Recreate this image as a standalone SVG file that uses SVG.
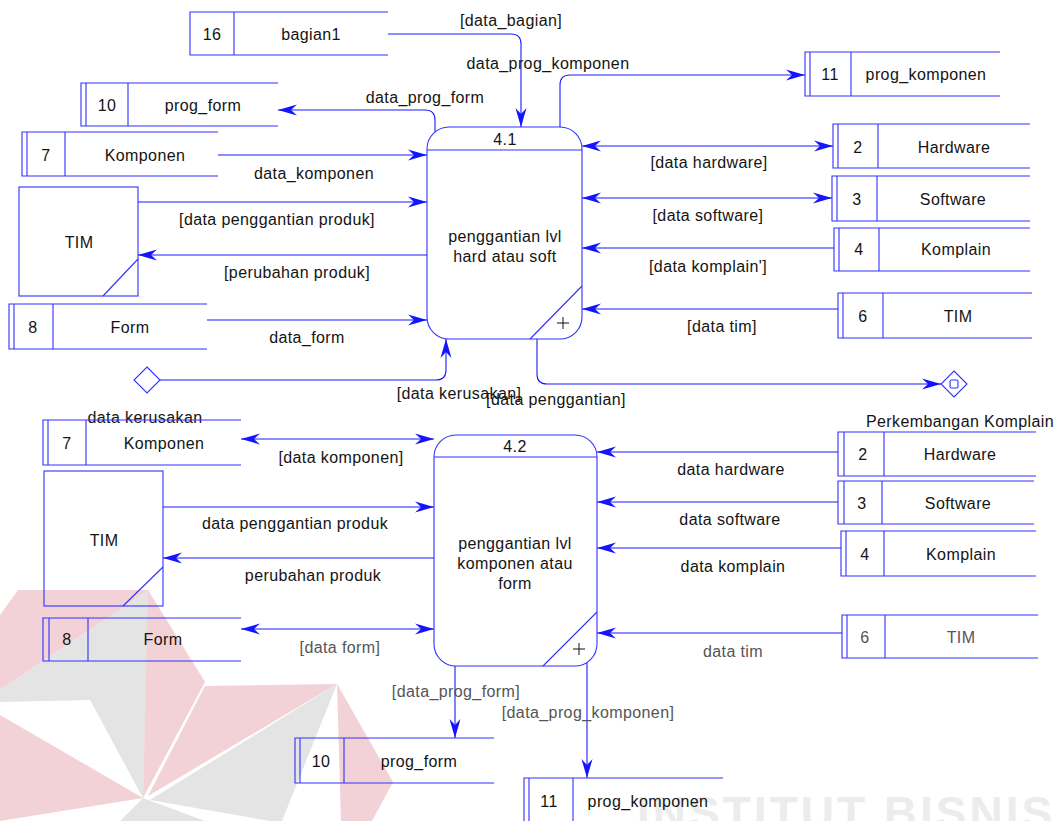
<svg xmlns="http://www.w3.org/2000/svg" width="1062" height="821" viewBox="0 0 1062 821">
  <defs>
    <style>
      text { font-family: "Liberation Sans", Arial, sans-serif; font-size: 16px; fill: #141414; letter-spacing: 0.4px; }
      .c { text-anchor: middle; }
      .dim { fill: #555; }
      .ln { fill: none; stroke: #1a1aff; stroke-width: 1.1; }
      .st { fill: none; stroke: #3030ff; stroke-width: 1.1; }
      .plus { stroke: #111; stroke-width: 1; }
      .wmr { fill: #f2d2d6; }
      .wmg { fill: #e4e4e4; }
      .wmt { font-family: "Liberation Sans", Arial, sans-serif; font-weight: bold; font-size: 46px; letter-spacing: 3px; fill: #ececec; }
    </style>
    <marker id="arr" viewBox="-20 -6 21 12" refX="0" refY="0" markerWidth="21" markerHeight="12" markerUnits="userSpaceOnUse" orient="auto-start-reverse">
      <path d="M0,0 L-19,-5.5 L-13,0 L-19,5.5 Z" fill="#1414ff"/>
    </marker>
  </defs>

  <rect width="1062" height="821" fill="#fff"/>

  <!-- background emblem and lettering -->
  <g id="watermark">
    <polygon class="wmr" points="18,590 149,590 0,690 0,615"/>
    <polygon class="wmg" points="149,590 0,690 0,702 90,700 143,798"/>
    <polygon class="wmr" points="148,590 205,682 143,798"/>
    <polygon class="wmr" points="205,686 337,684 148,796"/>
    <polygon class="wmg" points="337,684 150,800 270,821 282,821"/>
    <polygon class="wmr" points="337,684 393,782 372,821 341,821"/>
    <polygon class="wmr" points="0,715 143,798 0,821"/>
    <polygon class="wmg" points="143,798 205,821 120,821"/>
    <text class="wmt" x="637" y="829">INSTITUT BISNIS</text>
  </g>

  <!-- data flows -->
  <g id="connectors">
    <!-- upper process 4.1 -->
    <path class="ln" d="M388,34 H511 Q521,34 521,44 V127" marker-end="url(#arr)"/>
    <path class="ln" d="M435,132 V120 Q435,110 425,110 H278" marker-end="url(#arr)"/>
    <path class="ln" d="M560,127 V85 Q560,75 570,75 H805" marker-end="url(#arr)"/>
    <path class="ln" d="M218,155 H427" marker-end="url(#arr)"/>
    <path class="ln" d="M138,202 H427" marker-end="url(#arr)"/>
    <path class="ln" d="M427,255 H138" marker-end="url(#arr)"/>
    <path class="ln" d="M207,320 H427" marker-end="url(#arr)"/>
    <path class="ln" d="M582,146 H833" marker-start="url(#arr)" marker-end="url(#arr)"/>
    <path class="ln" d="M582,198 H832" marker-start="url(#arr)" marker-end="url(#arr)"/>
    <path class="ln" d="M834,248 H582" marker-end="url(#arr)"/>
    <path class="ln" d="M838,309 H582" marker-end="url(#arr)"/>
    <path class="ln" d="M160,380 H436 Q446,380 446,370 V339" marker-end="url(#arr)"/>
    <path class="ln" d="M537,339 V374 Q537,384 547,384 H941" marker-end="url(#arr)"/>

    <!-- lower process 4.2 -->
    <path class="ln" d="M241,439 H434" marker-start="url(#arr)" marker-end="url(#arr)"/>
    <path class="ln" d="M163,507 H434" marker-end="url(#arr)"/>
    <path class="ln" d="M434,558 H163" marker-end="url(#arr)"/>
    <path class="ln" d="M241,629 H434" marker-start="url(#arr)" marker-end="url(#arr)"/>
    <path class="ln" d="M838,452 H597" marker-end="url(#arr)"/>
    <path class="ln" d="M838,502 H597" marker-end="url(#arr)"/>
    <path class="ln" d="M841,548 H597" marker-end="url(#arr)"/>
    <path class="ln" d="M842,633 H597" marker-end="url(#arr)"/>
    <path class="ln" d="M455,666 V738" marker-end="url(#arr)"/>
    <path class="ln" d="M587,663 V778" marker-end="url(#arr)"/>

    <!-- flow labels -->
    <text class="c" x="511" y="26">[data_bagian]</text>
    <text class="c" x="548" y="69">data_prog_komponen</text>
    <text class="c" x="425" y="103">data_prog_form</text>
    <text class="c" x="314" y="179">data_komponen</text>
    <text class="c" x="709" y="168">[data hardware]</text>
    <text class="c" x="277" y="225">[data penggantian produk]</text>
    <text class="c" x="708" y="221">[data software]</text>
    <text class="c" x="297" y="278">[perubahan produk]</text>
    <text class="c" x="708" y="272">[data komplain']</text>
    <text class="c" x="307" y="343">data_form</text>
    <text class="c" x="722" y="332">[data tim]</text>
    <text class="c" x="459" y="399">[data kerusakan]</text>
    <text class="c" x="556" y="405">[data penggantian]</text>
    <text class="c" x="145" y="423">data kerusakan</text>
    <text class="c" x="960" y="427">Perkembangan Komplain</text>
    <text class="c" x="341" y="463">[data komponen]</text>
    <text class="c" x="731" y="475">data hardware</text>
    <text class="c" x="295" y="529">data penggantian produk</text>
    <text class="c" x="730" y="525">data software</text>
    <text class="c" x="733" y="572">data komplain</text>
    <text class="c" x="313" y="581">perubahan produk</text>
    <text class="c dim" x="340" y="653">[data form]</text>
    <text class="c dim" x="733" y="657">data tim</text>
    <text class="c dim" x="456" y="697">[data_prog_form]</text>
    <text class="c dim" x="588" y="718">[data_prog_komponen]</text>
  </g>

  <!-- process 4.1 -->
  <g id="proc-4-1">
    <rect class="st" x="427" y="127" width="155" height="212" rx="22"/>
    <path class="st" d="M427,150 H582 M582,286 L530,339"/>
    <path class="plus" d="M557,323 H569 M563,317 V329"/>
    <text class="c" x="505" y="145">4.1</text>
    <text class="c" x="505" y="242">penggantian lvl</text>
    <text class="c" x="505" y="262">hard atau soft</text>
  </g>

  <!-- process 4.2 -->
  <g id="proc-4-2">
    <rect class="st" x="434" y="435" width="163" height="231" rx="22"/>
    <path class="st" d="M434,457 H597 M597,612 L543,666"/>
    <path class="plus" d="M573,649 H585 M579,643 V655"/>
    <text class="c" x="515" y="452">4.2</text>
    <text class="c" x="515" y="549">penggantian lvl</text>
    <text class="c" x="515" y="569">komponen atau</text>
    <text class="c" x="515" y="589">form</text>
  </g>

  <!-- external entities -->
  <g id="ent-tim-1">
    <rect class="st" x="19" y="187" width="119" height="109"/>
    <path class="st" d="M138,259 L103,296"/>
    <text class="c" x="79" y="248">TIM</text>
  </g>
  <g id="ent-tim-2">
    <rect class="st" x="44" y="471" width="119" height="135"/>
    <path class="st" d="M163,567 L123,606"/>
    <text class="c" x="104" y="546">TIM</text>
  </g>

  <!-- flow end points -->
  <g id="junction-1">
    <polygon class="st" points="147,367 160,380 147,393 134,380"/>
  </g>
  <g id="junction-2">
    <polygon class="st" points="954,371 967,384 954,397 941,384"/>
    <rect class="st" x="950" y="380" width="8" height="8" rx="1.5"/>
  </g>

  <!-- data stores (upper) -->
  <g id="store-16">
    <path class="st" d="M388,12 H190 V55 H388 M234,12 V55"/>
    <text class="c" x="212" y="40">16</text>
    <text class="c" x="311" y="40">bagian1</text>
  </g>
  <g id="store-10a">
    <path class="st" d="M278,83 H81 V126 H278 M86,83 V126 M128,83 V126"/>
    <text class="c" x="107" y="111">10</text>
    <text class="c" x="203" y="111">prog_form</text>
  </g>
  <g id="store-11a">
    <path class="st" d="M1000,52 H805 V96 H1000 M810,52 V96 M851,52 V96"/>
    <text class="c" x="830" y="80">11</text>
    <text class="c" x="926" y="80">prog_komponen</text>
  </g>
  <g id="store-7a">
    <path class="st" d="M218,132 H22 V176 H218 M27,132 V176 M65,132 V176"/>
    <text class="c" x="46" y="161">7</text>
    <text class="c" x="145" y="161">Komponen</text>
  </g>
  <g id="store-2a">
    <path class="st" d="M1030,124 H833 V168 H1030 M838,124 V168 M878,124 V168"/>
    <text class="c" x="858" y="153">2</text>
    <text class="c" x="954" y="153">Hardware</text>
  </g>
  <g id="store-3a">
    <path class="st" d="M1030,176 H832 V221 H1030 M837,176 V221 M877,176 V221"/>
    <text class="c" x="857" y="205">3</text>
    <text class="c" x="953" y="205">Software</text>
  </g>
  <g id="store-4a">
    <path class="st" d="M1030,228 H834 V271 H1030 M839,228 V271 M879,228 V271"/>
    <text class="c" x="859" y="255">4</text>
    <text class="c" x="956" y="255">Komplain</text>
  </g>
  <g id="store-6a">
    <path class="st" d="M1032,293 H838 V338 H1032 M843,293 V338 M883,293 V338"/>
    <text class="c" x="863" y="322">6</text>
    <text class="c" x="958" y="322">TIM</text>
  </g>
  <g id="store-8a">
    <path class="st" d="M207,304 H9 V349 H207 M14,304 V349 M53,304 V349"/>
    <text class="c" x="33" y="333">8</text>
    <text class="c" x="130" y="333">Form</text>
  </g>

  <!-- data stores (lower) -->
  <g id="store-7b">
    <path class="st" d="M241,420 H43 V465 H241 M48,420 V465 M86,420 V465"/>
    <text class="c" x="67" y="449">7</text>
    <text class="c" x="164" y="449">Komponen</text>
  </g>
  <g id="store-8b">
    <path class="st" d="M241,618 H43 V661 H241 M49,618 V661 M88,618 V661"/>
    <text class="c" x="67" y="645">8</text>
    <text class="c" x="163" y="645">Form</text>
  </g>
  <g id="store-2b">
    <path class="st" d="M1036,432 H838 V476 H1036 M844,432 V476 M884,432 V476"/>
    <text class="c" x="863" y="460">2</text>
    <text class="c" x="960" y="460">Hardware</text>
  </g>
  <g id="store-3b">
    <path class="st" d="M1034,481 H838 V524 H1034 M844,481 V524 M882,481 V524"/>
    <text class="c" x="862" y="509">3</text>
    <text class="c" x="958" y="509">Software</text>
  </g>
  <g id="store-4b">
    <path class="st" d="M1036,531 H841 V576 H1036 M846,531 V576 M884,531 V576"/>
    <text class="c" x="865" y="560">4</text>
    <text class="c" x="961" y="560">Komplain</text>
  </g>
  <g id="store-6b">
    <path class="st" d="M1038,615 H842 V658 H1038 M847,615 V658 M885,615 V658"/>
    <text class="c dim" x="865" y="643">6</text>
    <text class="c dim" x="961" y="643">TIM</text>
  </g>
  <g id="store-10b">
    <path class="st" d="M494,738 H295 V783 H494 M300,738 V783 M344,738 V783"/>
    <text class="c" x="321" y="767">10</text>
    <text class="c" x="419" y="767">prog_form</text>
  </g>
  <g id="store-11b">
    <path class="st" d="M723,778 H524 V823 M529,778 V823 M573,778 V823"/>
    <text class="c" x="549" y="807">11</text>
    <text class="c" x="648" y="807">prog_komponen</text>
  </g>
</svg>
